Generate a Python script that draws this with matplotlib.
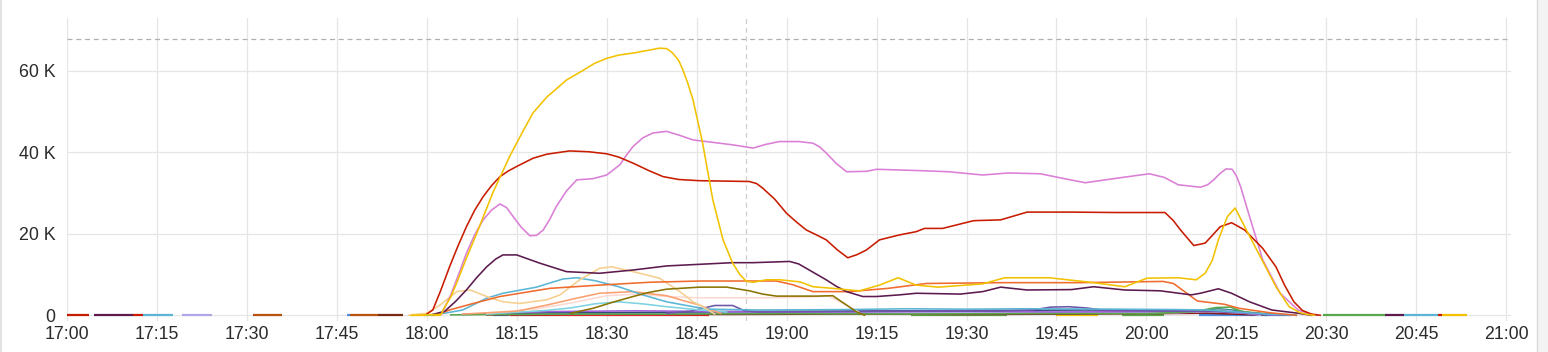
import matplotlib
matplotlib.use("Agg")
import matplotlib.pyplot as plt
from matplotlib.patches import Rectangle
from matplotlib.lines import Line2D
import numpy as np

plt.rcParams['font.family'] = ['Liberation Sans', 'DejaVu Sans']

# ---------------- data (x = minutes after 17:00, y = value in thousands) ----------------
x_tick_labels = ['17:00', '17:15', '17:30', '17:45', '18:00', '18:15', '18:30', '18:45',
                 '19:00', '19:15', '19:30', '19:45', '20:00', '20:15', '20:30', '20:45', '21:00']
y_tick_values = [0, 20000, 40000, 60000]
y_tick_labels = ['0', '20 K', '40 K', '60 K']
threshold_value = 67700
cursor_minute = 113.2

yellow_t = [57.4, 62.4, 62.7, 64, 65, 66.6, 68.3, 71, 73.8, 75.8, 77.7, 80, 83.3, 86, 88, 90, 92,
            94.4, 97, 98.8, 100, 101, 102, 102.7, 103.5, 104.4, 106, 107.7, 109.4, 111, 112.2,
            113.3, 114.5, 116.6, 118.9, 122.2, 124.4, 127.7, 130.5, 132.2, 135.5, 138.6, 141.6,
            145.3, 152.7, 156.4, 163.8, 171.2, 176.4, 180.1, 185.3, 188.3, 189.8, 191, 192, 193.5,
            194.8, 196.4, 198.7, 201.6, 203.8, 205.5, 206.8, 208]
yellow_v = [0, 0.2, 1.3, 4.5, 8, 14, 20, 30, 38.9, 44.5, 49.6, 53.5, 57.7, 60, 61.8, 63, 63.8,
            64.3, 65, 65.5, 65.4, 64.3, 62.5, 60.2, 57, 52.8, 42.2, 28.3, 18.5, 12.8, 10,
            8.3, 8.1, 8.7, 8.7, 8.2, 7.0, 6.6, 6.2, 6.0, 7.4, 9.2, 7.4,
            6.9, 7.7, 9.2, 9.2, 8.0, 7.0, 9.1, 9.2, 8.7, 10.3, 13.5, 18.5, 24.2,
            26.3, 21.7, 15.2, 7.0, 2.1, 0.7, 0.2, 0]

red_t = [60, 61, 62.3, 63.8, 65.2, 66.6, 68, 69.4, 70.8, 72.2, 73.6, 75, 77.7, 80, 83.8, 87, 90,
         92, 94.4, 97, 99.4, 102, 105.5, 110, 113.8, 115, 116, 118, 120, 121.7, 123.3, 125,
         126.6, 128.5, 130.2, 131.8, 133.3, 135.5, 138.8, 141.6, 143, 146, 151.2, 155.7, 160.1,
         167.5, 175, 183.1, 184.5, 185.7, 187.9, 189.8, 191, 192.3, 194.2, 196.4, 199.4,
         201.6, 203, 204.6, 206, 207.5, 209]
red_v = [0.3, 1.3, 6, 11.9, 17, 21.7, 25.8, 29.1, 31.8, 34, 35.4, 36.5, 38.5, 39.5, 40.3, 40.1, 39.6,
         38.8, 37.3, 35.5, 34, 33.3, 33, 32.9, 32.8, 32.3, 31.2, 28.5, 25, 22.8, 20.9, 19.7,
         18.5, 16, 14.1, 14.9, 16, 18.5, 19.7, 20.5, 21.3, 21.3, 23.2, 23.4, 25.3,
         25.3, 25.2, 25.2, 23.2, 20.9, 17.1, 17.7, 19.6, 21.7, 22.7, 20.9, 16.4,
         11.9, 7.5, 3.3, 1.2, 0.3, 0]

pink_t = [62.7, 64, 65.3, 66.6, 68, 69.4, 70.8, 72.2, 73.3, 74.4, 75.8, 77.2, 78.3, 79.4, 80.5,
          81.6, 83.3, 85, 87.7, 90, 92.2, 93.3, 94.4, 96, 97.7, 100, 102, 104.4, 108.8, 111,
          114.4, 116.5, 118.8, 122, 124.4, 125.5, 126.6, 128.3, 130, 133.3, 135, 141.6, 147, 152.7,
          157, 162.3, 166, 169.8, 175, 180.5, 183, 185.3, 189, 190.2, 191.2, 192.3, 193.3, 194.3,
          195, 195.7, 197.2, 199.4, 202.3, 205.3, 207.5, 208.5]
pink_v = [1, 5, 10, 15.2, 19.8, 23.4, 25.8, 27.3, 26.4, 24.2, 21.5, 19.5, 19.6, 20.9, 23.5,
          26.7, 30.5, 33.2, 33.5, 34.4, 36.9, 39.3, 41.4, 43.5, 44.7, 45.1, 44.2, 43, 42.2, 41.8,
          41, 41.9, 42.6, 42.6, 42.2, 41.3, 39.8, 37.2, 35.2, 35.3, 35.8, 35.5, 35.2, 34.4,
          34.9, 34.7, 33.6, 32.5, 33.6, 34.7, 33.8, 32, 31.4, 32, 33.2, 34.8, 35.9, 35.8,
          34.2, 31.6, 24.2, 13.6, 5.4, 1.3, 0.2, 0]

plum_t = [61, 63, 64.8, 66.6, 68.3, 70, 71.5, 72.7, 75, 78.8, 83.3, 88.8, 94.4, 100, 105.5, 111,
          114.4, 120.5, 122, 123.3, 126.6, 128.3, 130, 132.7, 135, 138.8, 141.6, 149, 152.7, 155.7,
          160.1, 167.5, 171.2, 176.4, 182.3, 187.5, 189, 192, 194.2, 197.2, 200.9, 205.3, 207.5]
plum_v = [0.2, 1, 3.4, 6.2, 9.2, 11.9, 13.8, 14.8, 14.8, 12.8, 10.7, 10.3, 11.1, 12.1, 12.5, 12.9,
          12.9, 13.2, 12.6, 11.5, 8.7, 7.1, 5.8, 4.6, 4.6, 5.0, 5.4, 5.2, 5.8, 6.9,
          6.2, 6.3, 7.0, 6.2, 6.0, 5.0, 5.4, 6.5, 5.4, 3.3, 1.3, 0.5, 0]

orange_t = [62, 63.8, 68, 72.2, 80.5, 88.8, 97.2, 105.5, 118.3, 121, 124.4, 130.5, 136.9, 143.3,
            156, 168.8, 182.8, 184.5, 186, 188.5, 193, 195.5, 200.7, 205]
orange_v = [0.3, 1.3, 3, 4.6, 6.6, 7.4, 8.1, 8.4, 8.4, 7.5, 5.8, 5.8, 6.6, 7.8,
            8.0, 8.0, 8.3, 7.8, 6.2, 3.5, 2.7, 1.7, 0.6, 0]

olive_t = [84, 87.7, 91, 94.4, 97, 100, 105.5, 110, 113.8, 116, 118.3, 125, 127.7, 131.6, 133]
olive_v = [0.5, 1.7, 3.2, 4.6, 5.6, 6.4, 6.9, 6.9, 6.0, 5.2, 4.7, 4.7, 4.8, 0.9, 0]

wheat_t = [57, 60, 62.2, 65, 67.2, 70, 72.7, 75.5, 80, 82.2, 85.5, 88.8, 90.8, 94.4, 98.8, 102.2,
           104.5, 105.5, 106.7, 108]
wheat_v = [0, 0.5, 2.5, 5.8, 6.2, 4.6, 3.3, 2.9, 3.8, 5.0, 8.7, 11.5, 11.9, 10.7, 9.1, 5.8,
           3.2, 2.5, 1.5, 0.3]

skyblue_t = [60, 63, 66, 70, 72.7, 78.3, 82.7, 85, 88, 92, 96, 100, 104.4, 107, 115, 130, 140, 150,
             160, 175, 185, 190, 195, 200, 205]
skyblue_v = [0, 0.5, 1.3, 4.2, 5.4, 6.9, 8.9, 9.2, 8.5, 7.0, 5.0, 3.3, 2.1, 1.5, 1.3, 1.4, 1.6, 1.5,
             1.6, 1.5, 1.4, 1.3, 0.8, 0.3, 0]

salmon_t = [66, 75, 80, 85, 88.8, 94.4, 100, 103, 105.5, 107, 109]
salmon_v = [0.3, 1.0, 2.5, 4.2, 5.4, 5.8, 4.8, 3.5, 2.5, 1.5, 0.5]

palepink_t = [70, 78, 84, 90, 95, 100, 105, 110, 118, 124, 127, 130, 132]
palepink_v = [0.5, 1.5, 3, 4.8, 5.2, 4.6, 4.3, 4.3, 4.3, 4.5, 4.7, 2.5, 0.8]

cyan_t = [70, 80, 84, 88, 92, 96, 100, 105.5, 110]
cyan_v = [0.3, 1.2, 1.8, 2.8, 3.3, 2.8, 2.1, 1.3, 0.8]

violet_t = [100, 104, 106, 108, 111, 113, 115, 140, 155, 161, 164, 167, 170, 173, 185, 195, 200, 204]
violet_v = [0.5, 1.0, 1.7, 2.4, 2.4, 1.1, 0.8, 1.0, 1.0, 1.3, 2.0, 2.1, 1.8, 1.2, 1.0, 0.8, 0.3, 0]

green_t = [64, 80, 100, 120, 140, 160, 180, 188, 191.6, 194, 196, 200, 205]
green_v = [0.1, 0.3, 0.3, 0.4, 0.3, 0.4, 0.4, 0.9, 1.9, 2.0, 0.9, 0.4, 0]

purple_t = [68, 80, 95, 110, 120, 135, 150, 165, 180, 190, 196, 202]
purple_v = [0.3, 0.9, 1.1, 0.9, 0.8, 0.9, 1.0, 0.8, 0.9, 1.1, 0.5, 0]

navy_t = [66, 80, 95, 110, 125, 140, 155, 170, 185, 192, 198, 203]
navy_v = [0.2, 0.6, 0.7, 0.9, 1.0, 1.1, 1.2, 1.3, 1.2, 1.0, 0.4, 0]

lavender_t = [72, 85, 100, 115, 130, 150, 170, 185, 193, 199]
lavender_v = [0.4, 0.6, 0.5, 0.7, 0.7, 0.6, 0.8, 0.6, 1.2, 0]

teal_t = [75, 90, 110, 130, 150, 170, 188, 192, 195, 200]
teal_v = [0.2, 0.4, 0.5, 0.6, 0.6, 0.5, 1.0, 1.6, 1.2, 0]

maroon_t = [70, 90, 110, 130, 150, 170, 190, 200]
maroon_v = [0.1, 0.3, 0.2, 0.3, 0.2, 0.3, 0.5, 0]

# zero-level segments (start minute, end minute)
seg_start = [0, 4.5, 11, 12.6, 19.1, 31, 46.7, 47.2, 51.9, 57.4, 71, 73.8, 140.7, 165, 176,
             188.8, 209.4, 219.8, 223, 228.7, 229.3]
seg_end = [3.7, 11, 12.6, 17.6, 24.1, 35.9, 47.2, 51.9, 56, 62.4, 73.7, 107, 156.7, 172, 183,
           204.3, 219.8, 223, 228.7, 229.3, 233.5]

# ---------------- styles ----------------
c_yellow = '#f2c200'
c_red = '#c81c00'
c_pink = '#da7fd5'
c_plum = '#5c1a4f'
c_orange = '#ef6b2e'
c_olive = '#8a7400'
c_wheat = '#f6cf8f'
c_sky = '#5bb5d5'
c_salmon = '#f9a070'
c_palepink = '#fcd9d2'
c_cyan = '#7dd3e0'
c_violet = '#6e55a8'
c_green = '#5aa64b'
c_purple = '#a05fd6'
c_navy = '#34497e'
c_lav = '#b9a7ec'
c_teal = '#2f8f8f'
c_maroon = '#8b1a1a'
seg_colors = [c_red, c_plum, c_red, c_sky, '#b3a6e8', '#b8520f', '#4a90e2', '#b8520f', '#7a2a10',
              c_yellow, '#4a90e2', '#e0262a', c_green, c_yellow, c_green, '#4a90e2', c_green,
              c_plum, c_sky, c_red, c_yellow]

W, H = 1548, 352
fig = plt.figure(figsize=(W / 100, H / 100), dpi=100)
fig.patch.set_facecolor('white')
ax = fig.add_axes([67 / W, 1 - 320.7 / H, (1511 - 67) / W, (320.7 - 18) / H])
ax.set_facecolor('white')

# figure decorations (panel borders)
fig.patches.append(Rectangle((1536.5 / W, 0), (W - 1536.5) / W, 1, transform=fig.transFigure,
                             facecolor='#f2f3f2', edgecolor='none', zorder=0))
fig.lines.append(Line2D([1536.5 / W, 1536.5 / W], [0, 1], transform=fig.transFigure,
                        color='#dadada', lw=1))
fig.lines.append(Line2D([0.5 / W, 0.5 / W], [0, 1], transform=fig.transFigure,
                        color='#e2e2e2', lw=1.5))

ax.set_xlim(0, 240.8)
ax.set_ylim(-1330, 72900)
for s in ax.spines.values():
    s.set_visible(False)

xt = np.arange(len(x_tick_labels)) * 15
ax.set_xticks(xt)
ax.set_xticklabels(x_tick_labels)
ax.set_yticks(y_tick_values)
ax.set_yticklabels(y_tick_labels)
ax.tick_params(length=0, labelsize=12.8, colors='#2b2b2b')
ax.tick_params(axis='x', pad=4)
ax.tick_params(axis='y', pad=8.5)
ax.grid(True, color='#e6e6e6', lw=0.9)
ax.set_axisbelow(True)

ax.axhline(threshold_value, color='#b0b0b0', lw=0.9, ls=(0, (4, 3)), zorder=1)
ax.axvline(cursor_minute, color='#cfcfcf', lw=0.9, ls=(0, (4, 3)), zorder=1)

def k(v):
    return np.asarray(v) * 1000.0

lw = 1.15
for s0, s1, c in zip(seg_start, seg_end, seg_colors):
    ax.plot([s0, s1], [0, 0], color=c, lw=1.6, solid_capstyle='butt', zorder=2)

series = [
    (maroon_t, maroon_v, c_maroon), (teal_t, teal_v, c_teal), (lavender_t, lavender_v, c_lav),
    (navy_t, navy_v, c_navy), (purple_t, purple_v, c_purple), (green_t, green_v, c_green),
    (violet_t, violet_v, c_violet), (cyan_t, cyan_v, c_cyan), (palepink_t, palepink_v, c_palepink),
    (salmon_t, salmon_v, c_salmon), (skyblue_t, skyblue_v, c_sky), (wheat_t, wheat_v, c_wheat),
    (olive_t, olive_v, c_olive), (orange_t, orange_v, c_orange), (plum_t, plum_v, c_plum),
    (pink_t, pink_v, c_pink), (red_t, red_v, c_red), (yellow_t, yellow_v, c_yellow),
]
for i, (t, v, c) in enumerate(series):
    ax.plot(t, k(v), color=c, lw=lw, zorder=3 + i * 0.01, solid_joinstyle='round')

fig.savefig('out.png', dpi=100, facecolor='white')
